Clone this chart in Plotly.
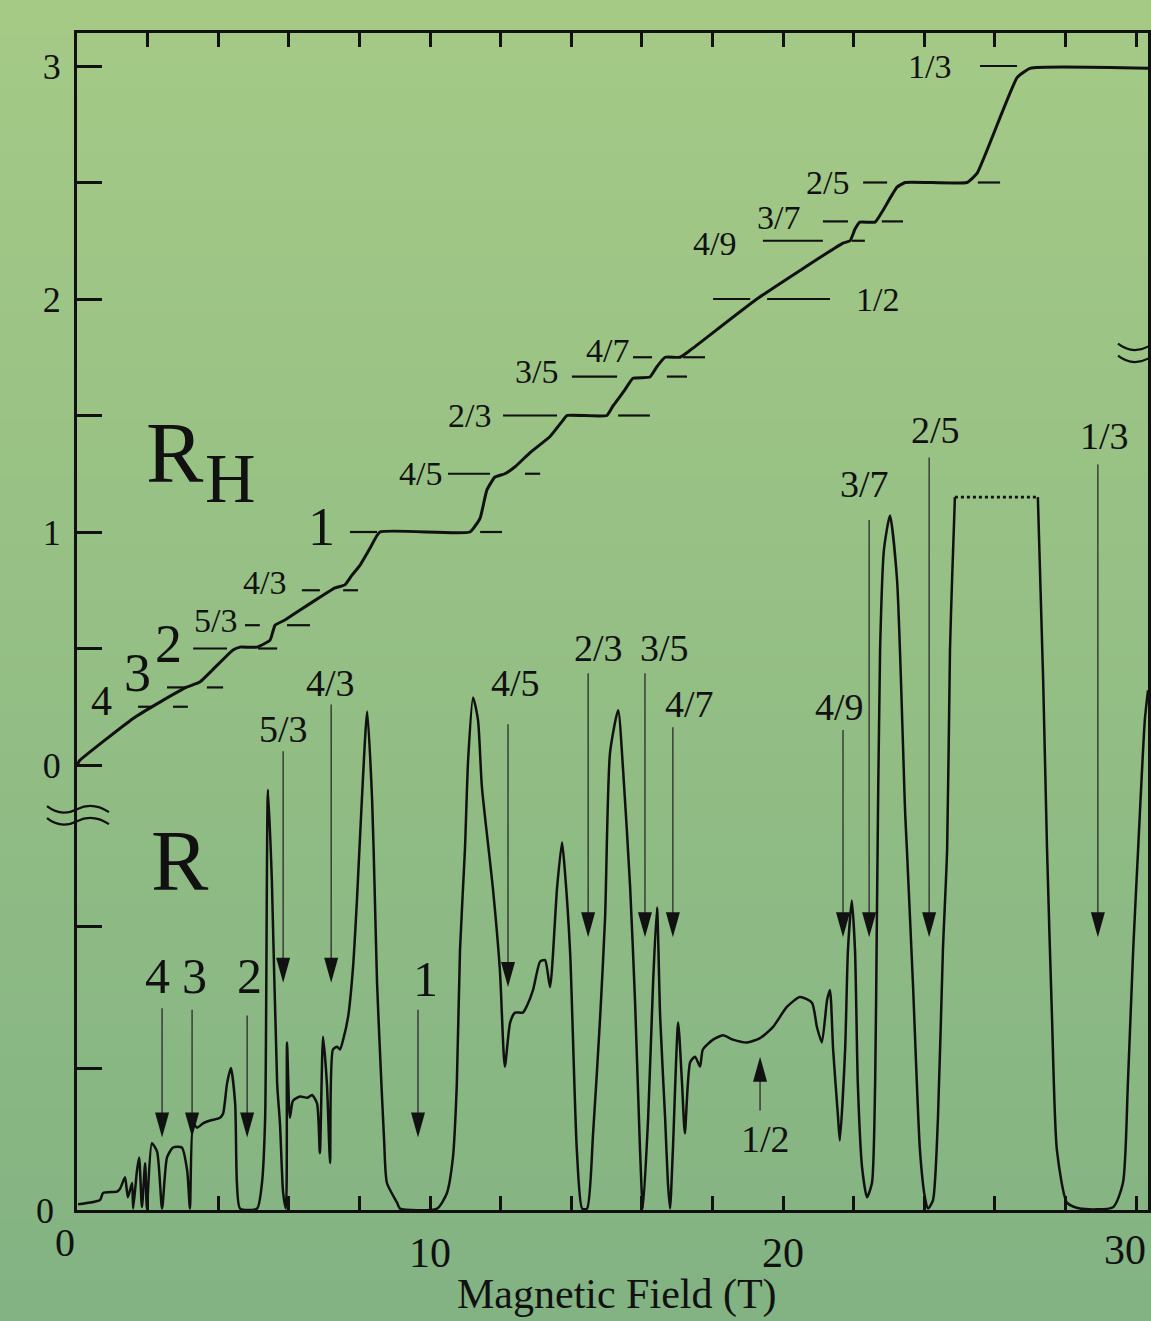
import base64, struct, zlib
import plotly.graph_objects as go

# ---------------- data ----------------
# Hall resistance R_H (units of h/e^2) versus magnetic field B (T)
rh_field = [0.0, 0.08, 1.59, 2.35, 3.12, 3.48, 3.85, 4.42, 4.62, 5.10, 5.47, 5.61, 5.89, 6.32,
            6.88, 7.31, 7.59, 7.79, 8.02, 8.30, 8.58, 11.13, 11.42, 11.61, 11.84, 12.12, 12.41,
            12.83, 13.40, 13.77, 13.88, 15.01, 15.18, 15.52, 15.75, 16.23, 16.43, 16.66, 17.08,
            17.37, 19.26, 21.70, 21.90, 22.04, 22.18, 22.61, 22.83, 23.23, 23.46, 25.21, 25.50,
            26.63, 27.00, 30.34]
rh_value = [0.0, 0.02, 0.20, 0.27, 0.335, 0.356, 0.41, 0.494, 0.506, 0.506, 0.536, 0.60, 0.622,
            0.665, 0.72, 0.76, 0.773, 0.815, 0.858, 0.93, 1.0, 1.0, 1.06, 1.18, 1.236, 1.25, 1.28,
            1.34, 1.41, 1.48, 1.5, 1.5, 1.54, 1.61, 1.66, 1.665, 1.71, 1.75, 1.75, 1.78, 2.0, 2.24,
            2.25, 2.30, 2.33, 2.33, 2.38, 2.48, 2.5, 2.5, 2.54, 2.95, 2.99, 2.99]

# quantised plateau markers
frac_labels = ['1/3', '2/5', '3/7', '4/9', '1/2', '4/7', '3/5', '2/3', '4/5', '1', '4/3', '5/3', '2', '3', '4']
frac_rh = [3.0, 2.5, 2.333, 2.25, 2.0, 1.75, 1.667, 1.5, 1.25, 1.0, 0.75, 0.6, 0.5, 0.333, 0.25]
dash_left_from = [25.58, 22.27, 21.13, 19.43, 18.02, 15.75, 14.02, 12.07, 10.51, 7.73, 6.37, 4.76, 3.29, 2.55, 1.73]
dash_left_to = [26.63, 22.95, 21.84, 21.13, 19.07, 16.29, 15.30, 13.60, 11.70, 8.50, 6.88, 5.18, 4.25, 3.12, 2.15]
dash_right_from = [None, 25.52, 22.80, 21.95, 19.55, 17.17, 16.71, 15.33, 12.69, 11.42, 7.54, 5.95, 5.13, 3.68, 2.72]
dash_right_to = [None, 26.15, 23.40, 22.32, 21.33, 17.79, 17.28, 16.23, 13.12, 12.04, 7.96, 6.60, 5.67, 4.14, 3.14]
frac_label_field = [24.16, 21.27, 19.86, 18.07, 22.69, 15.04, 13.03, 11.13, 9.72, 6.94, 5.30, 3.91, 2.58, 1.70, 0.68]
frac_label_rh = [3.0, 2.5, 2.35, 2.24, 2.0, 1.78, 1.69, 1.5, 1.25, 1.02, 0.785, 0.62, 0.52, 0.395, 0.275]

# longitudinal resistance R (arbitrary units) versus B (T); None = off-scale gap
r_field = [0.03, 0.65, 0.74, 1.13, 1.22, 1.36, 1.44, 1.56, 1.59, 1.70, 1.76, 1.84, 1.93, 1.98,
           2.12, 2.27, 2.41, 2.55, 2.72, 2.97, 3.12, 3.20, 3.29, 3.40, 3.57, 3.77, 4.05, 4.14,
           4.25, 4.36, 4.48, 4.53, 4.62, 5.10, 5.24, 5.33, 5.41, 5.52, 5.67, 5.75, 5.84, 5.92,
           5.95, 6.03, 6.12, 6.32, 6.52, 6.66, 6.80, 6.88, 6.97, 7.08, 7.17, 7.25, 7.37, 7.45,
           7.54, 7.68, 7.82, 7.93, 8.07, 8.22, 8.36, 8.44, 8.50, 8.58, 8.70, 8.78, 9.07, 9.15,
           10.20, 10.48, 10.65, 10.76, 10.85, 10.99, 11.08, 11.22, 11.36, 11.47, 11.78, 11.98,
           12.12, 12.27, 12.41, 12.63, 12.75, 12.92, 13.12, 13.26, 13.40, 13.60, 13.74, 13.82,
           13.97, 14.16, 14.31, 14.45, 14.62, 14.82, 14.96, 15.10, 15.33, 15.47, 15.67, 15.81,
           15.95, 16.03, 16.18, 16.32, 16.43, 16.52, 16.66, 16.74, 16.80, 16.88, 17.03, 17.14,
           17.22, 17.37, 17.51, 17.65, 17.73, 18.02, 18.30, 18.58, 18.98, 19.35, 19.72, 20.11,
           20.48, 20.82, 20.96, 21.10, 21.25, 21.33, 21.42, 21.56, 21.61, 21.76, 21.84, 21.95,
           22.04, 22.12, 22.24, 22.38, 22.52, 22.61, 22.66, 22.75, 22.86, 23.03, 23.23, 23.46,
           23.51, 23.68, 23.88, 24.02, 24.11, 24.25, 24.39, 24.53, 24.65, 24.73, 24.79, 24.87,
           None, 27.22, 27.37, 27.48, 27.62, 27.76, 28.05, 28.41, 29.35, 29.63, 29.77, 29.92,
           30.06, 30.25, 30.34]
r_value = [0.04, 0.07, 0.12, 0.13, 0.15, 0.23, 0.09, 0.19, 0.01, 0.28, 0.37, 0.02, 0.33, 0.01,
           0.47, 0.41, 0.01, 0.37, 0.44, 0.44, 0.28, 0.01, 0.61, 0.58, 0.61, 0.63, 0.65, 0.68,
           0.89, 1.00, 0.75, 0.19, 0.01, 0.01, 0.19, 0.65, 2.96, 2.32, 0.89, 0.61, 0.12, 0.01,
           1.18, 0.65, 0.77, 0.80, 0.79, 0.81, 0.75, 0.40, 1.22, 0.89, 0.33, 1.13, 1.15, 1.13,
           1.20, 1.36, 1.71, 2.18, 2.89, 3.51, 2.89, 2.18, 1.60, 1.13, 0.49, 0.19, 0.05, 0.01,
           0.01, 0.12, 0.37, 0.89, 1.83, 2.54, 3.17, 3.61, 3.45, 2.98, 2.27, 1.69,
           1.01, 1.32, 1.39, 1.39, 1.44, 1.55, 1.75, 1.76, 1.57, 2.27, 2.59, 2.39,
           1.81, 0.42, 0.01, 0.01, 0.54, 1.36, 2.06, 3.22, 3.52, 3.10, 2.27, 1.46,
           0.42, 0.01, 0.65, 1.60, 2.13, 1.36, 0.65, 0.19, 0.01, 0.42, 1.32, 0.89,
           0.54, 1.04, 1.08, 1.01, 1.13, 1.20, 1.23, 1.20, 1.18, 1.21, 1.29, 1.43,
           1.50, 1.46, 1.29, 1.18, 1.48, 1.55, 1.13, 0.65, 0.49, 1.13, 1.83, 2.18,
           1.83, 0.89, 0.30, 0.09, 0.19, 0.89, 2.06, 3.94, 4.65, 4.89, 4.44, 2.80,
           2.54, 1.60, 0.42, 0.09, 0.01, 0.07, 0.65, 1.83, 2.54, 3.94, 4.44, 5.02,
           None, 5.02, 3.73, 2.54, 1.36, 0.42, 0.05, 0.01, 0.02, 0.19, 0.89, 1.83,
           2.54, 3.45, 3.66]
assert len(r_field) == len(r_value)
assert len(rh_field) == len(rh_value)

# off-scale top of the 2/5 - 1/3 peak (dotted)
cut_field = [24.87, 27.22]
cut_value = [5.02, 5.02]

# labelled minima in R (downward arrows)
low_labels = ['4', '3', '2', '5/3', '4/3', '1', '4/5', '2/3', '3/5', '4/7', '4/9', '3/7', '2/5', '1/3']
low_label_field = [2.29, 3.34, 4.90, 5.84, 7.17, 9.86, 12.41, 14.76, 16.63, 17.34, 21.61, 22.30, 24.33, 29.12]
low_label_r = [1.65, 1.65, 1.65, 3.39, 3.71, 1.63, 3.71, 3.96, 3.96, 3.56, 3.54, 5.11, 5.49, 5.45]
arrow_field = [2.41, 3.26, 4.82, 5.84, 7.20, 9.66, 12.21, 14.48, 16.09, 16.88, 21.70, 22.44, 24.14, 28.92]
arrow_top = [1.42, 1.41, 1.37, 3.23, 3.56, 1.41, 3.42, 3.78, 3.78, 3.40, 3.38, 4.86, 5.30, 5.25]
arrow_tip = [0.51, 0.51, 0.51, 1.60, 1.60, 0.51, 1.57, 1.92, 1.92, 1.92, 1.92, 1.92, 1.92, 1.92]
# nu = 1/2 (upward arrow)
half_label = '1/2'
half_label_field, half_label_r = 19.49, 0.50
half_arrow_field, half_arrow_bottom, half_arrow_tip = 19.35, 0.70, 1.08

x_tickvals = list(range(0, 31, 2))
x_ticktext = ['' if v not in (10, 20) else str(v) for v in x_tickvals]
rh_tickvals = [0, 0.5, 1, 1.5, 2, 2.5, 3]
rh_ticktext = ['0', '', '1', '', '2', '', '3']
r_tickvals = [0, 1, 2]
r_ticktext = ['0', '', '']

# ---------------- style ----------------
W, H = 1151, 1321
ML, MR, MT, MB = 77, 3, 33, 111
FONT = 'Liberation Serif, Times New Roman, serif'
INK = '#111111'


def gradient_png(top, bottom, rows=96):
    cols = []
    for i in range(rows):
        t = i / (rows - 1)
        cols.append(tuple(int(round(a + (b - a) * t)) for a, b in zip(top, bottom)))
    raw = b''.join(b'\x00' + bytes(c) for c in cols)

    def chunk(tag, data):
        return struct.pack('>I', len(data)) + tag + data + struct.pack('>I', zlib.crc32(tag + data) & 0xffffffff)

    png = (b'\x89PNG\r\n\x1a\n' + chunk(b'IHDR', struct.pack('>IIBBBBB', 1, rows, 8, 2, 0, 0, 0))
           + chunk(b'IDAT', zlib.compress(raw)) + chunk(b'IEND', b''))
    return 'data:image/png;base64,' + base64.b64encode(png).decode()


fig = go.Figure()

# R_H curve
fig.add_trace(go.Scatter(x=rh_field, y=rh_value, mode='lines', yaxis='y',
                         line=dict(color=INK, width=3, shape='spline', smoothing=0.4),
                         hoverinfo='skip'))

# plateau dashes
dx, dy = [], []
for i in range(len(frac_labels)):
    dx += [dash_left_from[i], dash_left_to[i], None]
    dy += [frac_rh[i], frac_rh[i], None]
    if dash_right_from[i] is not None:
        dx += [dash_right_from[i], dash_right_to[i], None]
        dy += [frac_rh[i], frac_rh[i], None]
fig.add_trace(go.Scatter(x=dx, y=dy, mode='lines', yaxis='y',
                         line=dict(color=INK, width=2.2), hoverinfo='skip'))

# R curve
fig.add_trace(go.Scatter(x=r_field, y=r_value, mode='lines', yaxis='y2', connectgaps=False,
                         line=dict(color=INK, width=2.5, shape='spline', smoothing=0.6),
                         hoverinfo='skip'))
fig.add_trace(go.Scatter(x=cut_field, y=cut_value, mode='lines', yaxis='y2',
                         line=dict(color=INK, width=2.6, dash='dot'), hoverinfo='skip'))

# arrow shafts
ax_, ay_ = [], []
for i in range(len(arrow_field)):
    ax_ += [arrow_field[i], arrow_field[i], None]
    ay_ += [arrow_top[i], arrow_tip[i] + 0.1, None]
ax_ += [half_arrow_field, half_arrow_field, None]
ay_ += [half_arrow_bottom, half_arrow_tip - 0.1, None]
fig.add_trace(go.Scatter(x=ax_, y=ay_, mode='lines', yaxis='y2',
                         line=dict(color='#2b2b2b', width=1.3), hoverinfo='skip'))

shapes = []
for i in range(len(arrow_field)):
    shapes.append(dict(type='path', xref='x', yref='y2', xsizemode='pixel', ysizemode='pixel',
                       xanchor=arrow_field[i], yanchor=arrow_tip[i],
                       path='M-7,25 L7,25 L0,0 Z', fillcolor=INK, line=dict(width=0)))
shapes.append(dict(type='path', xref='x', yref='y2', xsizemode='pixel', ysizemode='pixel',
                   xanchor=half_arrow_field, yanchor=half_arrow_tip,
                   path='M-7,-25 L7,-25 L0,0 Z', fillcolor=INK, line=dict(width=0)))
# axis break marks (paper referenced so they are not clipped to the plot area)
wave = ('M-30,6 C-20,-2 -10,-2 0,3 C10,8 20,8 32,0 '
        'M-30,-6 C-20,-14 -10,-14 0,-9 C10,-4 20,-4 32,-12')
shapes.append(dict(type='path', xref='paper', yref='paper', xsizemode='pixel', ysizemode='pixel',
                   xanchor=0, yanchor=0.338, path=wave, line=dict(color=INK, width=2.2)))
shapes.append(dict(type='path', xref='paper', yref='paper', xsizemode='pixel', ysizemode='pixel',
                   xanchor=1, yanchor=0.731, path=wave, line=dict(color=INK, width=2.2)))

ann = []
big = {'1': 54, '2': 54, '3': 54, '4': 42}
for lab, bx, by in zip(frac_labels, frac_label_field, frac_label_rh):
    ann.append(dict(x=bx, y=by, xref='x', yref='y', text=lab, showarrow=False,
                    xanchor='center', yanchor='middle',
                    font=dict(family=FONT, size=big.get(lab, 34), color=INK)))
for lab, bx, by in zip(low_labels, low_label_field, low_label_r):
    ann.append(dict(x=bx, y=by, xref='x', yref='y2', text=lab, showarrow=False,
                    xanchor='center', yanchor='middle',
                    font=dict(family=FONT, size=50 if '/' not in lab else 38, color=INK)))
ann.append(dict(x=half_label_field, y=half_label_r, xref='x', yref='y2', text=half_label,
                showarrow=False, xanchor='center', yanchor='middle',
                font=dict(family=FONT, size=38, color=INK)))
# panel labels
ann.append(dict(x=2.78, y=1.34, xref='x', yref='y', text='R', showarrow=False,
                xanchor='center', yanchor='middle', font=dict(family=FONT, size=86, color=INK)))
ann.append(dict(x=4.36, y=1.23, xref='x', yref='y', text='H', showarrow=False,
                xanchor='center', yanchor='middle', font=dict(family=FONT, size=70, color=INK)))
ann.append(dict(x=2.92, y=2.46, xref='x', yref='y2', text='R', showarrow=False,
                xanchor='center', yanchor='middle', font=dict(family=FONT, size=86, color=INK)))
# axis title and the end labels "0" and "30" (kept inside the canvas)
ann.append(dict(x=0.504, y=-0.072, xref='paper', yref='paper', text='Magnetic Field (T)',
                showarrow=False, xanchor='center', yanchor='middle',
                font=dict(family=FONT, size=42, color=INK)))
ann.append(dict(x=-0.011, y=-0.028, xref='paper', yref='paper', text='0',
                showarrow=False, xanchor='center', yanchor='middle',
                font=dict(family=FONT, size=40, color=INK)))
ann.append(dict(x=1.0, y=-0.034, xref='paper', yref='paper', text='30',
                showarrow=False, xanchor='right', yanchor='middle',
                font=dict(family=FONT, size=42, color=INK)))

plot_h = H - MT - MB
rh_top = (765 - 33) / 233.0
rh_bot = (765 - 1210) / 233.0

fig.update_layout(
    width=W, height=H, margin=dict(l=ML, r=MR, t=MT, b=MB, pad=0, autoexpand=False),
    paper_bgcolor='rgb(150,192,132)', plot_bgcolor='rgba(0,0,0,0)',
    showlegend=False, shapes=shapes, annotations=ann,
    images=[dict(source=gradient_png((165, 202, 134), (131, 179, 131)), xref='paper', yref='paper',
                 x=-ML / (W - ML - MR), y=1 + MT / plot_h, sizex=W / (W - ML - MR), sizey=H / plot_h,
                 sizing='stretch', xanchor='left', yanchor='top', layer='below')],
    xaxis=dict(range=[0, 30.34], showgrid=False, zeroline=False, showline=True, linewidth=3,
               linecolor=INK, mirror='ticks', ticks='inside', ticklen=14, tickwidth=3, tickcolor=INK,
               tickvals=x_tickvals, ticktext=x_ticktext, ticklabelstandoff=4,
               tickfont=dict(family=FONT, size=42, color=INK)),
    yaxis=dict(range=[rh_bot, rh_top], showgrid=False, zeroline=False, showline=True, linewidth=3,
               linecolor=INK, mirror=True, ticks='inside', ticklen=25, tickwidth=3, tickcolor=INK,
               tickvals=rh_tickvals, ticktext=rh_ticktext, ticklabelstandoff=6,
               tickfont=dict(family=FONT, size=36, color=INK)),
    yaxis2=dict(range=[0, (1210 - 33) / 142.0], overlaying='y', side='left', anchor='x',
                showgrid=False, zeroline=False, showline=False, ticks='inside', ticklen=25,
                tickwidth=3, tickcolor=INK, tickvals=r_tickvals, ticktext=r_ticktext,
                ticklabelstandoff=22, tickfont=dict(family=FONT, size=36, color=INK)),
)

fig.write_html('out.html')
